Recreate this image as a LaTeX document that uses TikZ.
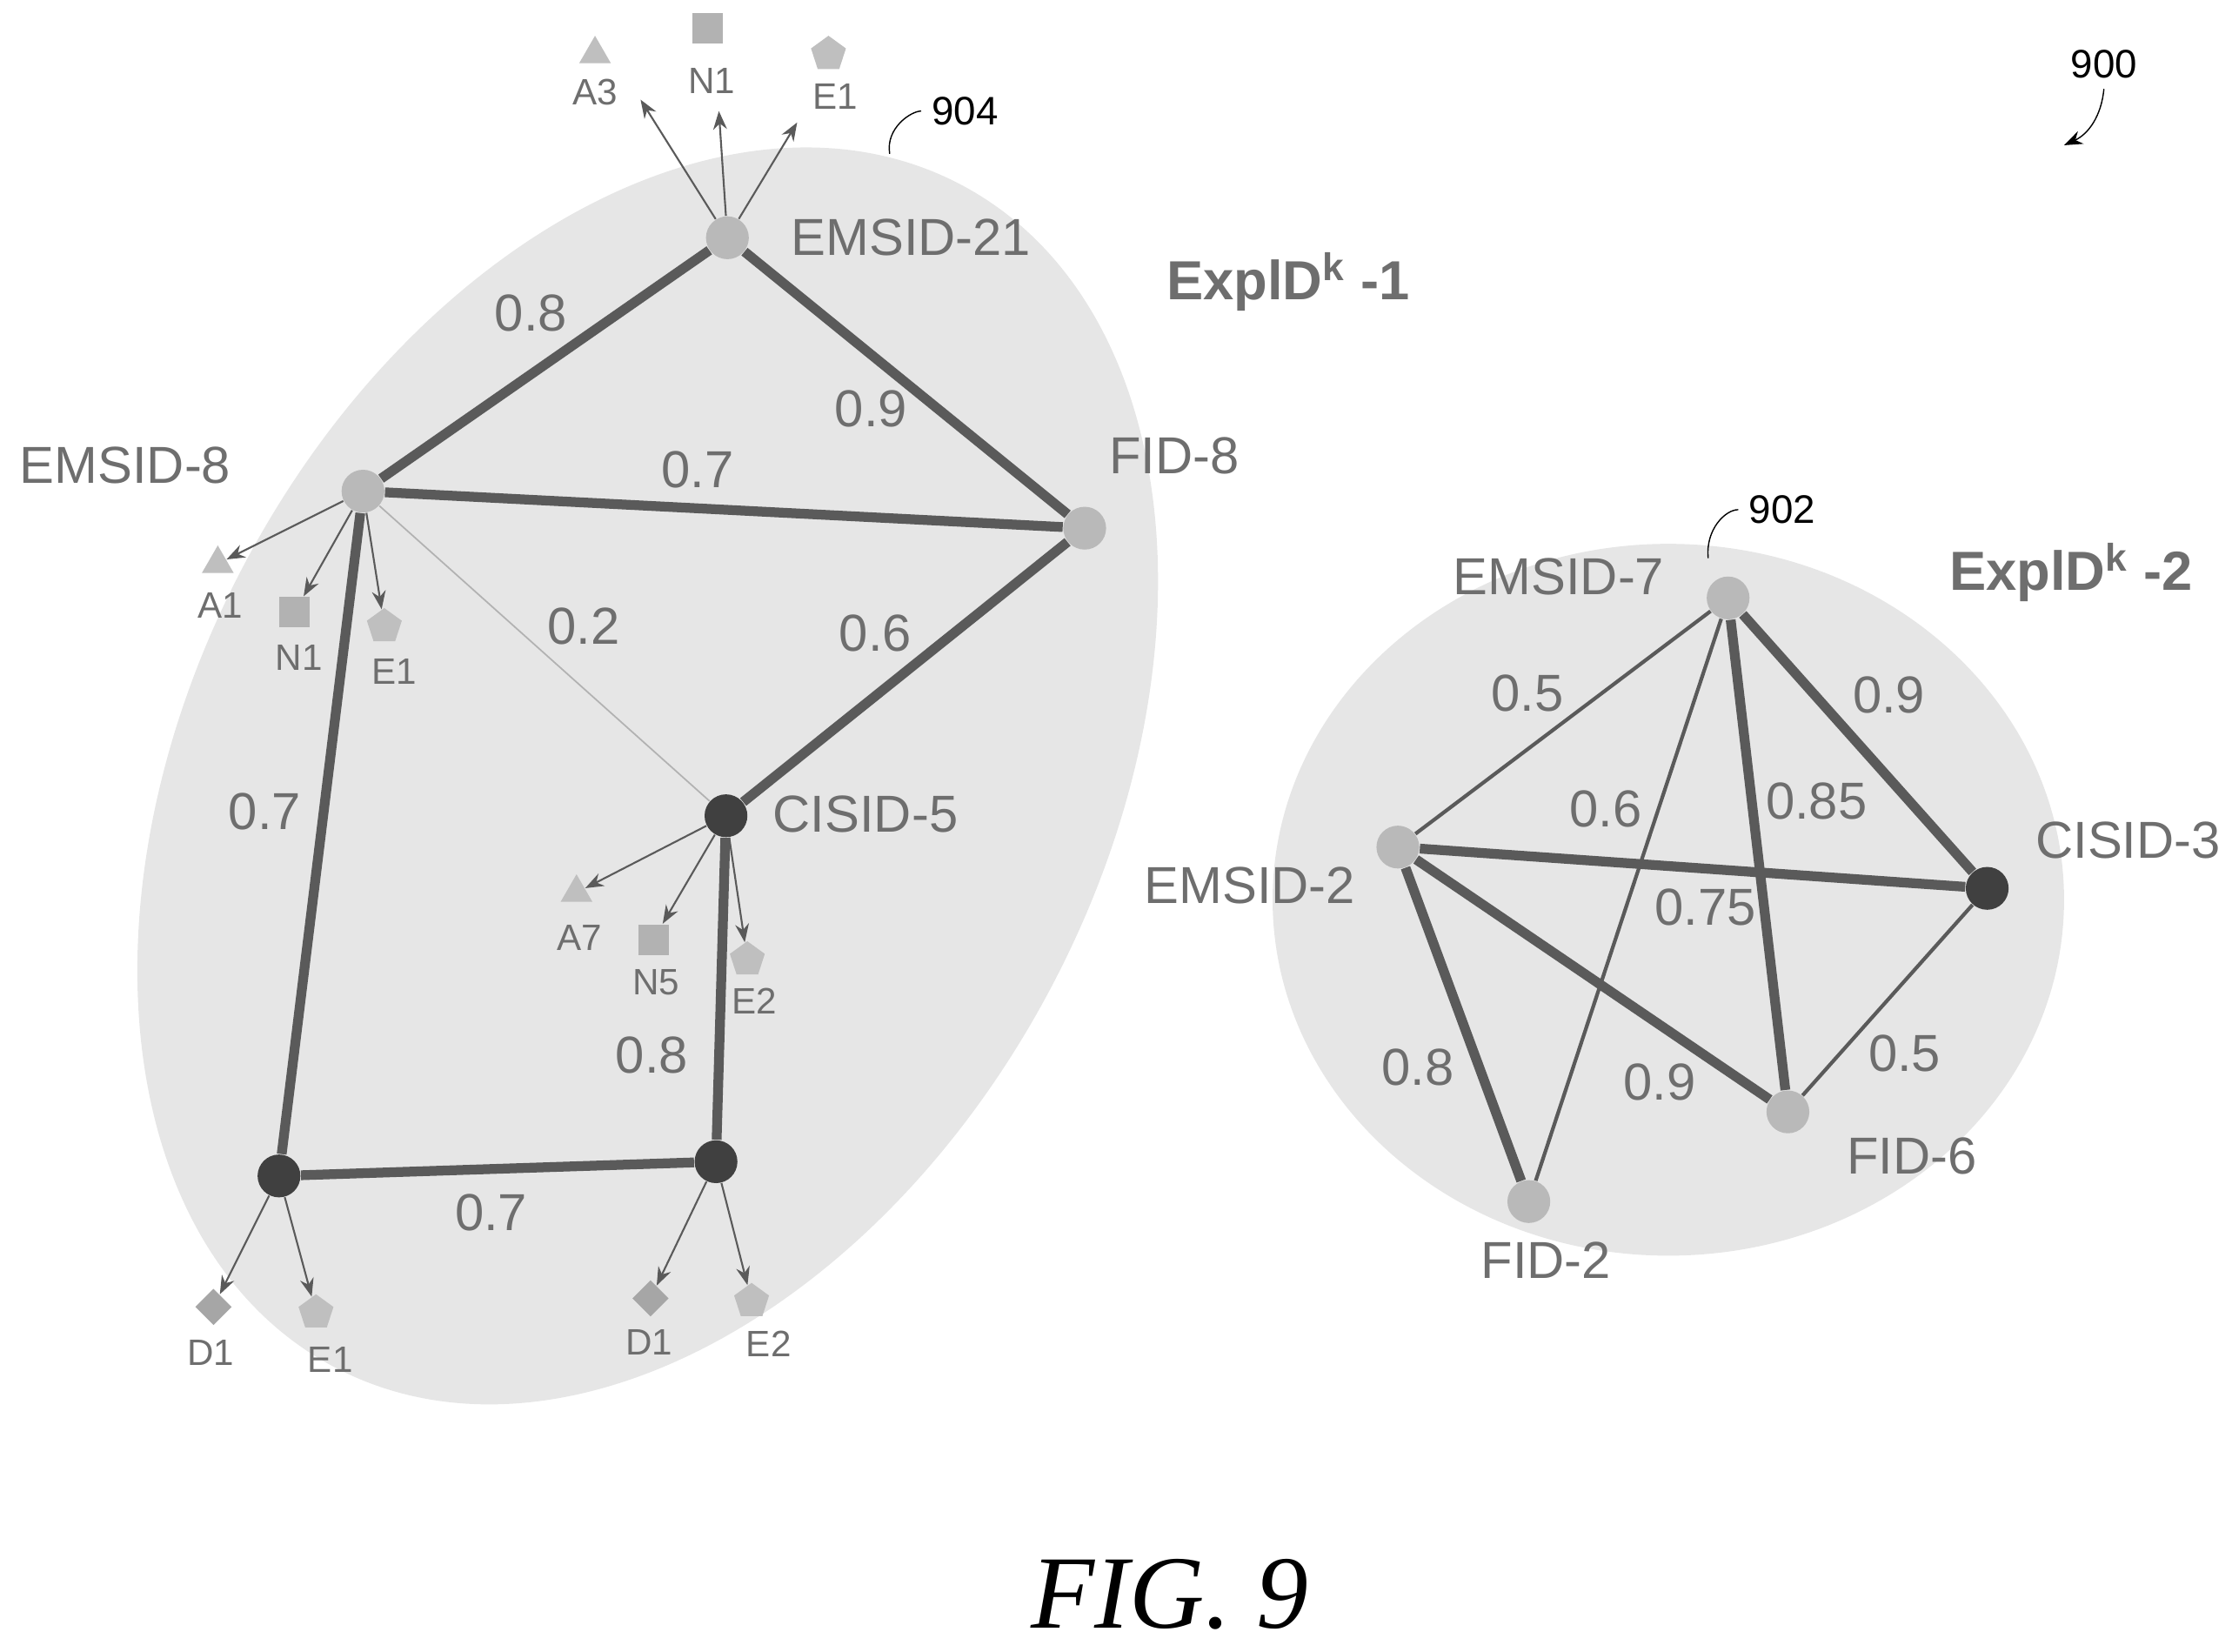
\documentclass[tikz,border=0pt]{standalone}
\usepackage{fontspec}
\setmainfont{Liberation Sans}
\newfontfamily\figfont{Liberation Serif}
\usetikzlibrary{shapes.geometric,arrows.meta}
\definecolor{lgray}{HTML}{E6E6E6}
\definecolor{egray}{HTML}{5A5A5A}
\definecolor{tgray}{HTML}{6E6E6E}
\tikzset{
  vert/.style  = {circle, fill=gray!55, inner sep=0pt, minimum size=14pt},
  dvert/.style = {vert, fill=black!75},
  lbl/.style   = {text=tgray, font=\fontsize{17}{17}\selectfont},
  wt/.style    = {text=tgray, font=\fontsize{17}{17}\selectfont},
  sml/.style   = {text=tgray, font=\fontsize{12}{12}\selectfont},
  heavy/.style = {draw=egray, line width=3.2pt},
  light/.style = {draw=egray, line width=1.2pt},
  faint/.style = {draw=gray!60, line width=0.5pt},
  attr/.style  = {draw=egray, line width=0.6pt, -{Stealth[length=6pt]}},
  tri/.style   = {regular polygon, regular polygon sides=3, fill=gray!50, inner sep=0pt, minimum size=12pt},
  sq/.style    = {rectangle, fill=gray!60, inner sep=0pt, minimum size=10pt},
  pent/.style  = {regular polygon, regular polygon sides=5, fill=gray!50, inner sep=0pt, minimum size=12pt},
  dia/.style   = {diamond, fill=gray!70, inner sep=0pt, minimum size=12pt},
  refnum/.style= {font=\fontsize{13}{13}\selectfont}
}
\begin{document}
\begin{tikzpicture}[x=0.016365cm, y=-0.016365cm]
  \useasboundingbox (0,0) rectangle (1568,1160);

  % groups
  \fill[lgray, rotate around={62:(455,545)}] (455,545) ellipse (470 and 320);
  \fill[lgray] (1172,632) ellipse (278 and 250);

  % cluster 1
  \node[vert]  (e21) at (511,167) {};
  \node[vert]  (e8)  at (255,345) {};
  \node[vert]  (f8)  at (762,371) {};
  \node[dvert] (c5)  at (510,573) {};
  \node[dvert] (bl)  at (196,826) {};
  \node[dvert] (br)  at (503,816) {};

  \draw[heavy] (e21) -- (e8);
  \draw[heavy] (e21) -- (f8);
  \draw[heavy] (e8) -- (f8);
  \draw[faint] (e8) -- (c5);
  \draw[heavy] (f8) -- (c5);
  \draw[heavy] (e8) -- (bl);
  \draw[heavy] (c5) -- (br);
  \draw[heavy] (bl) -- (br);
  \node[wt] at (373,220) {0.8};
  \node[wt] at (612,287) {0.9};
  \node[wt] at (490,330) {0.7};
  \node[wt] at (410,440) {0.2};
  \node[wt] at (615,445) {0.6};
  \node[wt] at (186,570) {0.7};
  \node[wt] at (458,741) {0.8};
  \node[wt] at (345,852) {0.7};

  \node[lbl] (le21) at (640,167) {EMSID-21};
  \node[lbl] (le8)  at (88,327)  {EMSID-8};
  \node[lbl] (lf8)  at (825,320) {FID-8};
  \node[lbl] (lc5)  at (608,572) {CISID-5};
  \node[font=\bfseries\fontsize{18}{18}\selectfont, text=tgray] at (905,198) {ExplD\textsuperscript{k} -1};

  % attributes
  \node[tri]  (a3)  at (418,38) {};  \node[sml] at (418,65) {A3};
  \node[sq]   (n1)  at (497,20) {};  \node[sml] at (500,57) {N1};
  \node[pent] (e1)  at (582,38) {};  \node[sml] at (587,68) {E1};
  \draw[attr] (e21) -- (450,70);
  \draw[attr] (e21) -- (505,78);
  \draw[attr] (e21) -- (560,86);

  \node[tri]  (a1)  at (153,396) {}; \node[sml] at (155,425) {A1};
  \node[sq]   (n1b) at (207,430) {}; \node[sml] at (210,462) {N1};
  \node[pent] (e1b) at (270,440) {}; \node[sml] at (277,472) {E1};
  \draw[attr] (e8) -- (a1);
  \draw[attr] (e8) -- (n1b);
  \draw[attr] (e8) -- (e1b);

  \node[tri]  (a7)  at (405,627) {}; \node[sml] at (407,659) {A7};
  \node[sq]   (n5)  at (459,660) {}; \node[sml] at (461,690) {N5};
  \node[pent] (e2)  at (525,674) {}; \node[sml] at (530,703) {E2};
  \draw[attr] (c5) -- (a7);
  \draw[attr] (c5) -- (n5);
  \draw[attr] (c5) -- (e2);

  \node[dia]  (d1)  at (150,918) {}; \node[sml] at (148,950) {D1};
  \node[pent] (e1c) at (222,922) {}; \node[sml] at (232,955) {E1};
  \draw[attr] (bl) -- (d1);
  \draw[attr] (bl) -- (e1c);

  \node[dia]  (d1b) at (457,912) {}; \node[sml] at (456,943) {D1};
  \node[pent] (e2b) at (528,914) {}; \node[sml] at (540,944) {E2};
  \draw[attr] (br) -- (d1b);
  \draw[attr] (br) -- (e2b);

  % cluster 2
  \node[vert]  (e7) at (1214,420) {};
  \node[dvert] (c3) at (1396,624) {};
  \node[vert]  (e2n) at (982,595) {};
  \node[vert]  (f6) at (1256,781) {};
  \node[vert]  (f2) at (1074,844) {};

  \draw[light] (e7) -- (e2n);
  \draw[heavy] (e7) -- (c3);
  \draw[heavy] (e7) -- (f6);
  \draw[light] (e7) -- (f2);
  \draw[heavy] (e2n) -- (c3);
  \draw[heavy] (e2n) -- (f6);
  \draw[heavy] (e2n) -- (f2);
  \draw[light] (c3) -- (f6);
  \node[wt] at (1073,487) {0.5};
  \node[wt] at (1327,488) {0.9};
  \node[wt] at (1128,568) {0.6};
  \node[wt] at (1276,563) {0.85};
  \node[wt] at (1198,637) {0.75};
  \node[wt] at (996,750)  {0.8};
  \node[wt] at (1166,760) {0.9};
  \node[wt] at (1338,740) {0.5};

  \node[lbl] at (1095,405) {EMSID-7};
  \node[lbl] at (1495,590) {CISID-3};
  \node[lbl] at (878,622)  {EMSID-2};
  \node[lbl] at (1343,812) {FID-6};
  \node[lbl] at (1086,885) {FID-2};
  \node[font=\bfseries\fontsize{18}{18}\selectfont, text=tgray] at (1455,402) {ExplD\textsuperscript{k} -2};

  % reference numerals
  \node[refnum] (r900) at (1478,45) {900};
  \coordinate (p900) at (1450,102);
  \draw[-{Stealth[length=6pt]}] (r900.south) to[bend left=30] (p900);
  \node[refnum] (r904) at (678,78) {904};
  \coordinate (p904) at (625,108);
  \draw (r904.west) .. controls (640,78) and (622,90) .. (p904);
  \node[refnum] (r902) at (1252,358) {902};
  \coordinate (p902) at (1200,392);
  \draw (r902.west) .. controls (1212,358) and (1198,372) .. (p902);

  \node[font=\figfont\itshape\fontsize{34}{34}\selectfont] at (822,1120) {FIG. 9};
\end{tikzpicture}
\end{document}
